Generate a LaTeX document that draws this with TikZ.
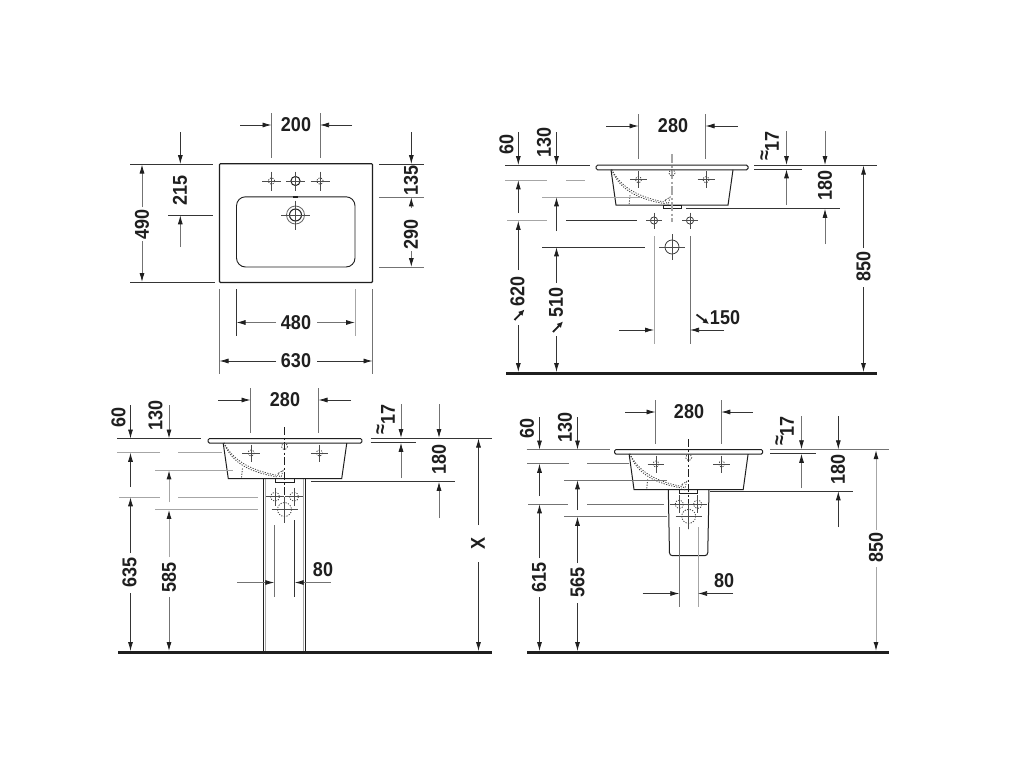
\documentclass[tikz,border=0pt]{standalone}
\usepackage{fontspec}
\setmainfont{Liberation Sans}[FakeStretch=0.9]
\usetikzlibrary{arrows.meta}
\definecolor{ink}{gray}{0.12}
\tikzset{
  dl/.style={line width=0.75pt,draw=ink!90!white},
  gl/.style={line width=1pt,draw=black!35},
  ml/.style={line width=0.8pt,draw=black!55},
  ar/.style={-{Latex[length=9pt,width=5pt,color=ink]}},
  obj/.style={line width=1pt,draw=ink},
  dotline/.style={line width=0.8pt,draw=black!75,dash pattern=on 1.2pt off 1.4pt},
  cl/.style={line width=1.2pt,draw=black!35,dash pattern=on 9pt off 2.5pt on 2pt off 2.5pt},
  floorline/.style={line width=3pt,draw=ink},
  val/.style={font=\fontsize{20}{20}\selectfont\bfseries,inner sep=0pt,text=ink},
  rval/.style={val,rotate=90},
  bigtick/.style={line width=1.8pt,draw=ink,-{Latex[length=6pt,width=6pt]}}
}
% horizontal and vertical helper paths
\newcommand{\hl}[4][dl]{\draw[#1] (#2,#4) -- (#3,#4);}
\newcommand{\vl}[4][dl]{\draw[#1] (#2,#3) -- (#2,#4);}
\newcommand{\arr}[5][dl]{\draw[#1,ar] (#2,#3) -- (#4,#5);}
\newcommand{\lab}[4]{\node[val] (#1) at (#2,#3) {#4};}
\newcommand{\rlab}[4]{\node[rval] (#1) at (#2,#3) {#4};}
% approx sign + 17 in one rotated label
\newcommand{\approxlab}[3]{\node[rval] (#1) at (#2,#3) {\smash{\raisebox{8pt}{≈}}17};}
% a fixing cross: x y radius arm circlestyle
\newcommand{\fix}[5]{\draw[#5] (#1,#2) circle (#3);
  \draw[line width=0.7pt,draw=black!70] (#1-#4,#2) -- (#1+#4,#2) (#1,#2-#4) -- (#1,#2+#4);}
% basin in section
\newcommand{\basin}[3]{%
\begin{scope}[shift={(#1,#2)},xscale=#3]
  \draw[obj,rounded corners=1.5pt] (0,0) rectangle (152,4.6);
  \draw[obj] (15,4.6) -- (20,40) -- (132,40) -- (137,4.6);
  \draw[obj,line width=0.9pt] (67,40) rectangle (85,43.5);
  \draw[dotline] (15.7,4.3) .. controls (24,20) and (38,31) .. (69,37);
  \draw[dotline] (15.7,4.3) .. controls (22,21) and (36,33) .. (69,38.5);
  \draw[dotline] (34,30) -- (33,40);
  \draw[dotline] (69,35) -- (72,40) -- (74,32) -- (69,35);
  \fix{42.5}{14.5}{3}{8.5}{dotline}
  \fix{110}{14.5}{3}{8.5}{dotline}
\end{scope}}
\begin{document}
\begin{tikzpicture}[x=1pt,y=-1pt]
\useasboundingbox[fill=white] (0,0) rectangle (1024,768);

% ===== plan view =====
\draw[obj,line width=1.1pt,rounded corners=1pt] (219.5,163.7) rectangle (372.5,282.5);
\draw[obj,rounded corners=9pt,line width=0.9pt] (236.5,196.8) rectangle (355,267);
\fix{271.5}{181}{3.2}{9.5}{dotline}
\fix{295.5}{181}{4.6}{9.5}{obj}
\fix{320}{181}{3.2}{9.5}{dotline}
\fill[ink] (292.7,196.2) rectangle (298.3,198);
\draw[line width=0.8pt,draw=black!60] (295.5,215) circle (9);
\fix{295.5}{215}{6}{14.5}{obj}
% 200
\vl[ml]{271.5}{113}{158}\vl[ml]{320}{113}{158}
\arr{240}{125}{271.5}{125}\arr{352}{125}{320}{125}
\lab{t200}{296}{125}{200}
% 215
\hl{130}{213}{164}\hl{168}{213}{215}
\arr{180.3}{132}{180.3}{164}\arr[ml]{180.3}{247}{180.3}{215.3}
\rlab{t215}{180}{190}{215}
% 490
\hl{130}{215}{282.5}
\arr[ml]{142}{207}{142}{164.5}\arr[ml]{142}{241}{142}{282}
\rlab{t490}{142}{224}{490}
% 135 290
\hl{379}{424}{164}\hl[ml]{379}{424}{197}\hl[ml]{379}{424}{267}
\arr{411.3}{132}{411.3}{164}
\arr[ml]{411.3}{208}{411.3}{197.3}\arr[ml]{411.3}{251}{411.3}{267}
\rlab{t135}{411}{180}{135}
\rlab{t290}{411}{234}{290}
% 480
\vl[dl]{236.5}{289}{336}\vl[gl]{355}{289}{336}
\arr[ml]{276}{322.5}{236.5}{322.5}\arr[ml]{317}{322.5}{355}{322.5}
\lab{t480}{296}{322.5}{480}
% 630
\vl[ml]{219.5}{289}{374}\vl[ml]{372.5}{289}{374}
\arr{276}{361}{219.5}{361}\arr{317}{361}{372.5}{361}
\lab{t630}{296}{361}{630}

% ===== wall mounted, top right =====
\basin{596}{165.2}{1}
\draw[cl] (672,154) -- (672,222);
\draw[dotline] (672,173) circle (3);
\fix{654}{220.5}{3.6}{8}{dl}
\fix{690}{220.5}{3.6}{8}{dl}
\fix{672}{247}{7}{13}{dl}
\vl[ml]{638.5}{114}{159}\vl[ml]{705.5}{114}{159}
\arr{606}{126}{638.5}{126}\arr{737.5}{126}{705.5}{126}
\lab{t280a}{673}{125.5}{280}
\hl{505}{590}{165.3}
\hl[gl]{505}{547}{180}\hl[gl]{566}{585}{180}
\hl[gl]{507}{547}{220.5}\hl{566}{637}{220.5}
\hl[gl]{542}{640}{197}
\hl{542}{645}{247}
\arr{518.3}{132}{518.3}{165}\arr{556.5}{132}{556.5}{165}
\rlab{t60a}{506.5}{144}{60}
\rlab{t130a}{544}{142}{130}
\arr{518.3}{213}{518.3}{180.3}
\arr{556.5}{231}{556.5}{197.3}
\arr{518.3}{270}{518.3}{220.8}
\arr{556.5}{283}{556.5}{247.3}
\arr{518.3}{325}{518.3}{372}\arr{556.5}{336}{556.5}{372}
\rlab{t620}{517.5}{291}{620}
\rlab{t510}{556}{302}{510}
\draw[bigtick] (514.5,320) -- (524.5,309.5);
\draw[bigtick] (553,332) -- (563,321.5);
\vl[gl]{654}{236}{344}\vl[ml]{690}{236}{344}
\arr{619}{330}{654}{330}\arr{724}{330}{690}{330}
\lab{t150}{725}{317.5}{150}
\draw[bigtick] (696.5,314.5) -- (709,324);
\hl{754}{877}{165.3}\hl{754}{801.7}{169}
\hl{686}{840}{208.5}
\arr[ml]{786.5}{131}{786.5}{165}\arr[ml]{786.5}{205}{786.5}{169.3}
\arr[ml]{825}{131}{825}{165}\arr[ml]{825}{244}{825}{208.8}
\approxlab{t17a}{772}{146}
\rlab{t180a}{825}{185.5}{180}
\arr{863.5}{248}{863.5}{165.6}
\rlab{t850a}{863.5}{266.5}{850}
\arr{863.5}{287}{863.5}{372}
\draw[floorline] (506,373.5) -- (877,373.5);

% ===== pedestal, bottom left =====
\vl[obj]{263}{479}{651}\vl[gl]{265.6}{479}{651}
\vl[gl]{303.3}{479}{651}\vl[obj]{305.6}{479}{651}
\basin{208}{438.5}{1.013}
\draw[line width=0.8pt,draw=ink,dash pattern=on 8pt off 2.5pt on 2pt off 2.5pt] (284.5,427) -- (284.5,523);
\draw[dotline] (284.5,446.5) circle (3);
\fix{275}{496.7}{4.5}{9}{dotline}
\fix{294}{496.7}{4.5}{9}{dotline}
\fix{284.5}{509.5}{7}{13}{dotline}
\vl[ml]{250.5}{388}{433}\vl[ml]{318.5}{388}{433}
\arr{218}{400}{250.5}{400}\arr{351}{400}{318.5}{400}
\lab{t280b}{285}{399.5}{280}
\hl{117}{201}{438.5}
\hl[gl]{117}{160}{452.5}\hl[gl]{178}{222}{452.5}
\hl[gl]{119}{160}{497}\hl[gl]{178}{258}{497}
\hl[gl]{155}{233}{470}
\hl[gl]{155}{258}{509.5}
\arr{130.5}{405}{130.5}{438.5}\arr[ml]{169}{405}{169}{438.5}
\rlab{t60b}{118.5}{417}{60}
\rlab{t130b}{155.5}{415}{130}
\arr{130.5}{487}{130.5}{452.8}
\arr[gl]{169}{502}{169}{470.3}
\arr{130.5}{553}{130.5}{497.3}
\arr[gl]{169}{557}{169}{509.8}
\rlab{t635}{129.5}{572}{635}
\rlab{t585}{169}{577}{585}
\arr{130.5}{593}{130.5}{651}
\arr[ml]{169}{597}{169}{651}
\vl[ml]{274.3}{525}{597}\vl{294.7}{520}{597}
\arr[ml]{237}{582.5}{274.3}{582.5}\arr[ml]{330.7}{582.5}{294.7}{582.5}
\lab{t80b}{323}{570}{80}
\hl{370.7}{491.7}{438.2}\hl{370.7}{415.7}{442.5}
\hl{311}{455}{481.5}
\arr[ml]{401}{404}{401}{438}\arr[ml]{401}{478}{401}{442.8}
\arr[ml]{439}{404}{439}{438}\arr[ml]{439}{518}{439}{481.8}
\approxlab{t17b}{388}{419.5}
\rlab{t180b}{439}{459}{180}
\arr{478.5}{525}{478.5}{438.5}
\node[val,rotate=90] (tx) at (478,543) {X};
\arr{478.5}{562}{478.5}{651}
\draw[floorline] (118,652) -- (492,652);

% ===== half pedestal, bottom right =====
\draw[obj,rounded corners=3pt] (668.3,489.3) -- (669.5,555.7) -- (707.7,555.7) -- (709,489.3);
\basin{614.5}{449.5}{0.975}
\draw[line width=0.8pt,draw=ink,dash pattern=on 8pt off 2.5pt on 2pt off 2.5pt] (688.7,439) -- (688.7,529);
\draw[dotline] (688.7,457.5) circle (3);
\fix{679.3}{504.3}{4.2}{9}{dotline}
\fix{697.7}{504.3}{4.2}{9}{dotline}
\fix{688.7}{516.3}{7}{13}{dotline}
\vl[ml]{655.5}{400}{444}\vl[ml]{721.3}{400}{444}
\arr{625}{412}{655.5}{412}\arr{752.7}{412}{721.3}{412}
\lab{t280c}{689}{411.5}{280}
\hl[ml]{526.7}{610}{449.7}
\hl[ml]{527}{569}{463.5}\hl[ml]{587}{629}{463.5}
\hl[ml]{528}{568}{504}\hl[ml]{587}{664}{504}
\hl[ml]{564}{667}{480}
\hl[ml]{564}{667}{516.5}
\arr{539.5}{417}{539.5}{449.5}\arr{577.5}{417}{577.5}{449.5}
\rlab{t60c}{527}{428}{60}
\rlab{t130c}{565}{427}{130}
\arr{539.5}{496}{539.5}{463.8}
\arr{577.5}{510}{577.5}{480.3}
\arr{539.5}{558}{539.5}{504.3}
\arr{577.5}{563}{577.5}{516.8}
\rlab{t615}{539}{577.5}{615}
\rlab{t565}{577.5}{582.5}{565}
\arr{539.5}{597}{539.5}{651}
\arr{577.5}{603}{577.5}{651}
\vl[ml]{679.3}{527}{606.7}\vl[gl]{698}{527}{606.7}
\arr{642.7}{593.5}{679.3}{593.5}\arr{733}{593.5}{698}{593.5}
\lab{t80c}{724}{580.7}{80}
\hl[ml]{770}{889}{449.5}\hl{770}{815.7}{453.5}
\hl{710}{853}{491}
\arr[ml]{801.5}{416}{801.5}{449.3}\arr[ml]{801.5}{488}{801.5}{453.8}
\arr{838.3}{416}{838.3}{449.3}\arr{838.3}{527}{838.3}{491.3}
\approxlab{t17c}{787}{431}
\rlab{t180c}{838}{469.5}{180}
\arr[gl]{876}{530}{876}{450}
\rlab{t850c}{876}{547}{850}
\arr[gl]{876}{567}{876}{651}
\draw[floorline] (527,652) -- (889,652);
\end{tikzpicture}
\end{document}
